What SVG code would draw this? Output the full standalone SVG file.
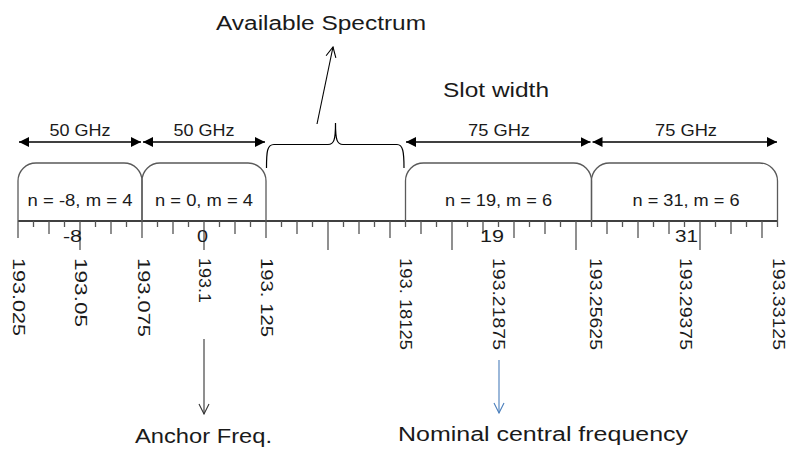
<svg xmlns="http://www.w3.org/2000/svg" width="786" height="449" viewBox="0 0 786 449">
<style>
text{font-family:"Liberation Sans",Arial,sans-serif;fill:#1a1a1a}
.big{font-size:20px}
.sm{font-size:17px}
.mid{text-anchor:middle}
.rot{font-size:17px;dominant-baseline:central}
.box{fill:none;stroke:#5a5a5a;stroke-width:1.3}
.dim{stroke:#000;stroke-width:1.5;fill:none}
.tk{stroke:#555;stroke-width:1.3;fill:none}
</style>
<defs>
<marker id="tri" viewBox="0 0 10 10" refX="10" refY="5" markerWidth="10" markerHeight="10" markerUnits="userSpaceOnUse" orient="auto-start-reverse">
<path d="M0,0 L10,5 L0,10 z" fill="#000"/>
</marker>
<marker id="open" viewBox="0 0 12 12" refX="11" refY="6" markerWidth="12" markerHeight="12" markerUnits="userSpaceOnUse" orient="auto">
<path d="M1,1 L11,6 L1,11" fill="none" stroke="context-stroke" stroke-width="1.1"/>
</marker>
<marker id="openB" viewBox="0 0 12 12" refX="11" refY="6" markerWidth="12" markerHeight="12" markerUnits="userSpaceOnUse" orient="auto">
<path d="M1,1 L11,6 L1,11" fill="none" stroke="#4a7ebb" stroke-width="1.1"/>
</marker>
<marker id="openK" viewBox="0 0 12 12" refX="11" refY="6" markerWidth="12" markerHeight="12" markerUnits="userSpaceOnUse" orient="auto">
<path d="M1,1 L11,6 L1,11" fill="none" stroke="#333" stroke-width="1.1"/>
</marker>
</defs>

<g id="titles">
<text class="big" x="216" y="30" textLength="210" lengthAdjust="spacingAndGlyphs">Available Spectrum</text>
<text class="big" x="443" y="97" textLength="106" lengthAdjust="spacingAndGlyphs">Slot width</text>
</g>

<g id="axis">
<line x1="18" y1="221" x2="778" y2="221" stroke="#000" stroke-width="1.5"/>
<path class="tk" d="M18,221V238M142,221V238M266,221V238M390,221V238M514,221V238M638,221V238M762,221V238
M80,221V250M204,221V250M328,221V250M452,221V250M576,221V250M700,221V250
M49,221V234M111,221V234M173,221V234M235,221V234M297,221V234M359,221V234M421,221V234M483,221V234M545,221V234M607,221V234M669,221V234M731,221V234
M33.5,221V227M64.5,221V227M95.5,221V227M126.5,221V227M157.5,221V227M188.5,221V227M219.5,221V227M250.5,221V227M281.5,221V227M312.5,221V227M343.5,221V227M374.5,221V227M405.5,221V227M436.5,221V227M467.5,221V227M498.5,221V227M529.5,221V227M560.5,221V227M591.5,221V227M622.5,221V227M653.5,221V227M684.5,221V227M715.5,221V227M746.5,221V227M777.5,221V227"/>
<text class="sm" x="63" y="242" textLength="19" lengthAdjust="spacingAndGlyphs">-8</text>
<text class="sm" x="197" y="242" textLength="11" lengthAdjust="spacingAndGlyphs">0</text>
<text class="sm" x="480" y="242" textLength="24" lengthAdjust="spacingAndGlyphs">19</text>
<text class="sm" x="675" y="242" textLength="23" lengthAdjust="spacingAndGlyphs">31</text>
</g>

<g id="freq-labels">
<text class="rot" transform="translate(18,258) rotate(90)" textLength="78" lengthAdjust="spacingAndGlyphs">193.025</text>
<text class="rot" transform="translate(80,258) rotate(90)" textLength="69" lengthAdjust="spacingAndGlyphs">193.05</text>
<text class="rot" transform="translate(143,258) rotate(90)" textLength="79" lengthAdjust="spacingAndGlyphs">193.075</text>
<text class="rot" transform="translate(204,258) rotate(90)" textLength="45" lengthAdjust="spacingAndGlyphs">193.1</text>
<text class="rot" transform="translate(266,258) rotate(90)" textLength="79" lengthAdjust="spacingAndGlyphs">193. 125</text>
<text class="rot" transform="translate(405.5,258) rotate(90)" textLength="92" lengthAdjust="spacingAndGlyphs">193. 18125</text>
<text class="rot" transform="translate(498.5,258) rotate(90)" textLength="92" lengthAdjust="spacingAndGlyphs">193.21875</text>
<text class="rot" transform="translate(595,258) rotate(90)" textLength="92" lengthAdjust="spacingAndGlyphs">193.25625</text>
<text class="rot" transform="translate(685,258) rotate(90)" textLength="92" lengthAdjust="spacingAndGlyphs">193.29375</text>
<text class="rot" transform="translate(778,258) rotate(90)" textLength="92" lengthAdjust="spacingAndGlyphs">193.33125</text>
</g>

<g id="slot1">
<path class="box" d="M18,221V181A18,18 0 0 1 36,163H124A18,18 0 0 1 142,181V221"/>
<text class="sm mid" x="80" y="206" textLength="105" lengthAdjust="spacingAndGlyphs">n = -8, m = 4</text>
</g>
<g id="slot2">
<path class="box" d="M142,221V181A18,18 0 0 1 160,163H248A18,18 0 0 1 266,181V221"/>
<text class="sm mid" x="204" y="206" textLength="98" lengthAdjust="spacingAndGlyphs">n = 0, m = 4</text>
</g>
<g id="slot3">
<path class="box" d="M405.5,221V181A18,18 0 0 1 423.5,163H573.5A18,18 0 0 1 591.5,181V221"/>
<text class="sm mid" x="498.5" y="206" textLength="107" lengthAdjust="spacingAndGlyphs">n = 19, m = 6</text>
</g>
<g id="slot4">
<path class="box" d="M591.5,221V181A18,18 0 0 1 609.5,163H759.5A18,18 0 0 1 777.5,181V221"/>
<text class="sm mid" x="686" y="206" textLength="107" lengthAdjust="spacingAndGlyphs">n = 31, m = 6</text>
</g>

<g id="available-spectrum">
<path d="M266.5,168C266.5,152 267,144.5 274,144.5H328C334,144.5 335.5,140 335.5,123M335.5,123C335.5,140 337,144.5 343,144.5H397C403,144.5 404,152 404,168" fill="none" stroke="#000" stroke-width="1.2"/>
</g>

<g id="width-labels">
<text class="sm mid" x="80" y="136" textLength="61" lengthAdjust="spacingAndGlyphs">50 GHz</text>
<text class="sm mid" x="204" y="136" textLength="61" lengthAdjust="spacingAndGlyphs">50 GHz</text>
<text class="sm mid" x="499" y="136" textLength="62" lengthAdjust="spacingAndGlyphs">75 GHz</text>
<text class="sm mid" x="686" y="136" textLength="62" lengthAdjust="spacingAndGlyphs">75 GHz</text>
</g>

<g id="anchor">
<text class="big" x="135" y="443" textLength="137" lengthAdjust="spacingAndGlyphs">Anchor Freq.</text>
</g>
<g id="nominal">
<text class="big" x="398" y="441" textLength="290" lengthAdjust="spacingAndGlyphs">Nominal central frequency</text>
</g>

<g id="connectors">
<line class="dim" x1="19" y1="142" x2="141" y2="142" marker-start="url(#tri)" marker-end="url(#tri)"/>
<line class="dim" x1="143" y1="142" x2="265" y2="142" marker-start="url(#tri)" marker-end="url(#tri)"/>
<line class="dim" x1="406" y1="142" x2="590.5" y2="142" marker-start="url(#tri)" marker-end="url(#tri)"/>
<line class="dim" x1="592.5" y1="142" x2="777" y2="142" marker-start="url(#tri)" marker-end="url(#tri)"/>
<line x1="317" y1="124" x2="333" y2="47" stroke="#000" stroke-width="1.1" marker-end="url(#open)"/>
<line x1="204" y1="339" x2="204" y2="414" stroke="#333" stroke-width="1.1" marker-end="url(#openK)"/>
<line x1="499" y1="360" x2="499" y2="413" stroke="#4a7ebb" stroke-width="1.1" marker-end="url(#openB)"/>
</g>
</svg>
